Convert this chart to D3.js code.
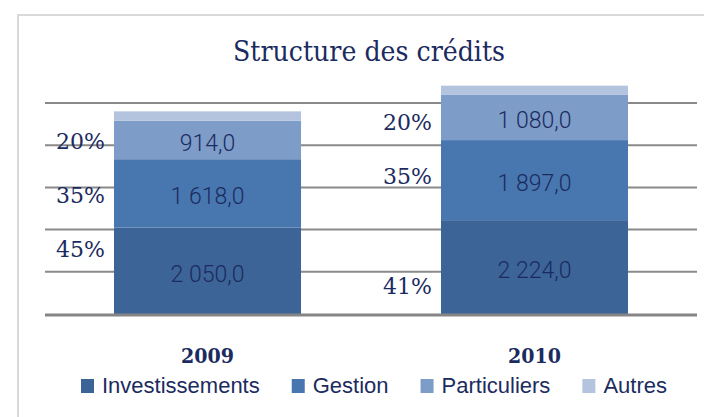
<!DOCTYPE html>
<html>
<head>
<meta charset="utf-8">
<script src="https://cdn.jsdelivr.net/npm/d3@7"></script>
<style>
  html, body { margin: 0; padding: 0; background: #fff; }
  svg { display: block; }
</style>
</head>
<body>
<div id="chart"></div>
<script>
// chart data
const years = ["2009", "2010"];
const series = ["Investissements", "Gestion", "Particuliers", "Autres"];
const investissements = [2050, 2224];
const gestion = [1618, 1897];
const particuliers = [914, 1080];
const autres = [220, 210];
const yTicks = [0, 1000, 2000, 3000, 4000, 5000];

// hand placed percentage labels (text + value where they sit)
const pctText = [["45%", "35%", "20%"], ["41%", "35%", "20%"]];
const pctAt = [[1540, 2820, 4100], [664, 3270, 4550]];

const colors = ["#3d6496", "#4877b0", "#7e9cc8", "#b4c4df"];
const navy = "#1b2b60";

const width = 704, height = 417;

const svg = d3.select("#chart").append("svg")
  .attr("width", width)
  .attr("height", height);

// outer frame
svg.append("rect")
  .attr("x", 18).attr("y", 15)
  .attr("width", 720).attr("height", 440)
  .attr("fill", "#fff")
  .attr("stroke", "#d9d9d9")
  .attr("stroke-width", 2);

const rows = years.map((y, i) => ({
  year: y,
  Investissements: investissements[i],
  Gestion: gestion[i],
  Particuliers: particuliers[i],
  Autres: autres[i]
}));

const stacked = d3.stack().keys(series)(rows);

const x = d3.scaleBand()
  .domain(years)
  .range([45, 697])
  .paddingInner(0.428)
  .paddingOuter(0.211);

const y = d3.scaleLinear()
  .domain([0, 5000])
  .range([314, 103]);

// gridlines
svg.append("g")
  .selectAll("line")
  .data(yTicks.filter(d => d > 0))
  .join("line")
  .attr("x1", 45).attr("x2", 697)
  .attr("y1", d => y(d)).attr("y2", d => y(d))
  .attr("stroke", "#8a8a8a")
  .attr("stroke-width", 2);

// bars
const layer = svg.append("g")
  .selectAll("g")
  .data(stacked)
  .join("g")
  .attr("fill", (d, i) => colors[i]);

layer.selectAll("rect")
  .data(d => d)
  .join("rect")
  .attr("x", d => x(d.data.year))
  .attr("width", x.bandwidth())
  .attr("y", d => y(d[1]))
  .attr("height", d => y(d[0]) - y(d[1]));

// baseline
svg.append("line")
  .attr("x1", 45).attr("x2", 697)
  .attr("y1", y(0) + 1).attr("y2", y(0) + 1)
  .attr("stroke", "#858585")
  .attr("stroke-width", 3);

// value labels (French number format)
const fr = d3.formatLocale({ decimal: ",", thousands: "\u00a0", grouping: [3], currency: ["", " €"] });
const fmt = fr.format(",.1f");

svg.append("g")
  .selectAll("g")
  .data(stacked.slice(0, 3))
  .join("g")
  .selectAll("text")
  .data(d => d)
  .join("text")
  .attr("x", d => x(d.data.year) + x.bandwidth() / 2)
  .attr("y", d => (y(d[0]) + y(d[1])) / 2 + 2.5)
  .attr("dy", "0.36em")
  .attr("text-anchor", "middle")
  .attr("font-family", "Roboto, sans-serif")
  .attr("font-weight", 300)
  .attr("font-size", 23)
  .attr("fill", navy)
  .text(d => fmt(d[1] - d[0]));

// percentage labels
years.forEach((yr, i) => {
  svg.append("g")
    .selectAll("text")
    .data(pctText[i])
    .join("text")
    .attr("x", x(yr) - 9)
    .attr("y", (d, j) => y(pctAt[i][j]))
    .attr("dy", "0.36em")
    .attr("text-anchor", "end")
    .attr("font-family", "'DejaVu Serif', serif")
    .attr("font-size", 22)
    .attr("fill", navy)
    .text(d => d);
});

// category labels
svg.append("g")
  .selectAll("text")
  .data(years)
  .join("text")
  .attr("x", d => x(d) + x.bandwidth() / 2)
  .attr("y", 363)
  .attr("text-anchor", "middle")
  .attr("font-family", "'DejaVu Serif', serif")
  .attr("font-weight", "bold")
  .attr("font-size", 21)
  .attr("textLength", 53)
  .attr("lengthAdjust", "spacingAndGlyphs")
  .attr("fill", navy)
  .text(d => d);

// title
svg.append("text")
  .attr("x", 369)
  .attr("y", 61)
  .attr("text-anchor", "middle")
  .attr("font-family", "'DejaVu Serif', serif")
  .attr("font-size", 28)
  .attr("textLength", 272)
  .attr("lengthAdjust", "spacingAndGlyphs")
  .attr("fill", navy)
  .text("Structure des crédits");

// legend
const legend = svg.append("g");
const items = legend.selectAll("g")
  .data(series)
  .join("g");

items.append("rect")
  .attr("width", 13).attr("height", 14)
  .attr("y", 379)
  .attr("fill", (d, i) => colors[i]);

items.append("text")
  .attr("x", 21)
  .attr("y", 393)
  .attr("font-family", "'Liberation Sans', Arial, sans-serif")
  .attr("font-size", 22)
  .attr("fill", navy)
  .text(d => d);

let lx = 81;
items.each(function () {
  const g = d3.select(this);
  g.attr("transform", `translate(${lx},0)`);
  lx += 21 + g.select("text").node().getComputedTextLength() + 32;
});
</script>
</body>
</html>
